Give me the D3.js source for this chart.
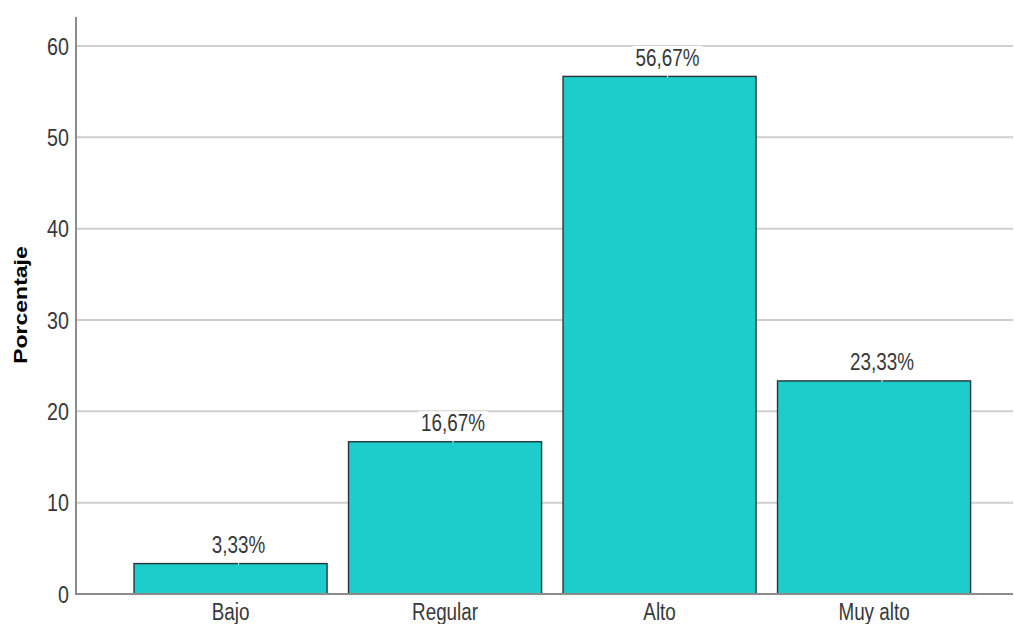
<!DOCTYPE html>
<html><head><meta charset="utf-8">
<script src="https://cdn.jsdelivr.net/npm/d3@7"></script>
<style>body{margin:0;background:#fff}svg{display:block}text{font-family:"Liberation Sans",Arial,sans-serif;fill:#383838}</style>
</head><body><svg id="c" width="1014" height="624"></svg>
<script>
const categories = ["Bajo","Regular","Alto","Muy alto"];
const values = [3.33,16.67,56.67,23.33];
const valueLabels = ["3,33%","16,67%","56,67%","23,33%"];
const yTicks = [0,10,20,30,40,50,60];
const yTitle = "Porcentaje";

const svg = d3.select("#c");
const FS = 23, SX = 0.82;
const x = d3.scaleBand().domain(categories).range([123.3,981.3]).paddingInner(0.1).paddingOuter(0.05);
const y = d3.scaleLinear().domain([0,60]).range([594,46]);

// gridlines
svg.append("g").selectAll("line").data(yTicks.filter(d=>d>0)).join("line")
  .attr("x1",76).attr("x2",1013).attr("y1",d=>y(d)).attr("y2",d=>y(d))
  .attr("stroke","#cfcfcf").attr("stroke-width",2);

// bars
svg.append("g").selectAll("rect").data(values).join("rect")
  .attr("x",(d,i)=>x(categories[i])).attr("width",x.bandwidth())
  .attr("y",d=>y(d)).attr("height",d=>y(0)-y(d))
  .attr("fill","#1ccdcc").attr("stroke","#2a3535").attr("stroke-width",1.4);

// value labels with white box
const lg = svg.append("g");
values.forEach((v,i)=>{
  const cx = x(categories[i]) + x.bandwidth()/2 + 8;
  const base = y(v) - 10.5;
  const t = lg.append("text").attr("transform",`translate(${cx},${base}) scale(${SX},1)`)
    .attr("text-anchor","middle").attr("font-size",FS).text(valueLabels[i]);
  const w = t.node().getComputedTextLength()*SX;
  lg.insert("rect","text").attr("x",cx-w/2-3).attr("y",base-20).attr("width",w+6).attr("height",24).attr("fill","#fff");
  lg.insert("line","text").attr("x1",cx).attr("x2",cx).attr("y1",base+4).attr("y2",y(v)+1).attr("stroke","#fff").attr("stroke-width",1);
});

// axes lines
svg.append("line").attr("x1",76).attr("x2",76).attr("y1",17).attr("y2",595).attr("stroke","#8c8c8c").attr("stroke-width",2);
svg.append("line").attr("x1",75).attr("x2",1013).attr("y1",594).attr("y2",594).attr("stroke","#8c8c8c").attr("stroke-width",2);

// y tick labels
svg.append("g").selectAll("text").data(yTicks).join("text")
  .attr("transform",d=>`translate(69,${y(d)+8.5}) scale(${SX},1)`)
  .attr("text-anchor","end").attr("font-size",FS+1).text(d=>d);

// x labels
svg.append("g").selectAll("text").data(categories).join("text")
  .attr("transform",d=>`translate(${x(d)+x.bandwidth()/2},620) scale(${SX},1)`)
  .attr("text-anchor","middle").attr("font-size",FS).text(d=>d);

// y title
svg.append("text").attr("transform",`translate(27,305) scale(${SX},1) rotate(-90)`)
  .attr("text-anchor","middle").attr("font-size",FS).attr("font-weight","bold").attr("fill","#000").style("fill","#000").text(yTitle);
</script></body></html>
